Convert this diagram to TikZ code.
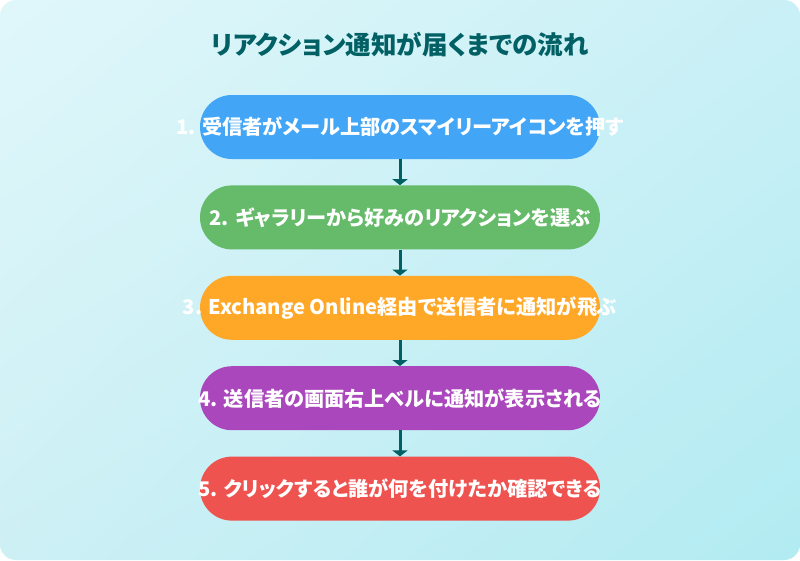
\documentclass[tikz,border=0pt]{standalone}
\usepackage{fontspec}
\setmainfont{Noto Sans CJK JP}[RawFeature=+palt]
\usetikzlibrary{positioning, arrows.meta, shadings}
\usepackage{xcolor}
\definecolor{bgTopLeft}{HTML}{E0F7FA}
\definecolor{bgTopRight}{HTML}{C9F0F6}
\definecolor{bgBottomLeft}{HTML}{CDF0F5}
\definecolor{bgBottomRight}{HTML}{B2EBF2}
\definecolor{deepTeal}{HTML}{006064}
\definecolor{stepBlue}{HTML}{42A5F5}
\definecolor{stepGreen}{HTML}{66BB6A}
\definecolor{stepOrange}{HTML}{FFA726}
\definecolor{stepPurple}{HTML}{AB47BC}
\definecolor{stepRed}{HTML}{EF5350}
\newcommand{\pilltext}[1]{\makebox[0pt]{#1}}

\begin{document}
\begin{tikzpicture}
    [
		x=1pt, y=-1pt,
		node distance=26pt,
		pill/.style={
			rounded corners=31.9pt, minimum width=400pt, minimum height=64pt,
			inner sep=0pt, text=white, font=\fontsize{20.2}{23}\selectfont\bfseries
		},
		flow/.style={
			-{Triangle[width=15pt,length=6pt]}, line width=3pt, draw=deepTeal
		}
	]

% Background
\useasboundingbox (0,0) rectangle (800,560);
\shade [rounded corners=16pt, upper left=bgTopLeft, upper right=bgTopRight,
	lower left=bgBottomLeft, lower right=bgBottomRight] (0,0) rectangle (800,560);

% Nodes
\node (title) [text=deepTeal, font=\fontsize{25.5}{30}\selectfont\bfseries] at (400,45)
	{リアクション通知が届くまでの流れ};
\node (step1) [pill, fill=stepBlue] at (400,127)
	{\pilltext{1. 受信者がメール上部のスマイリーアイコンを押す}};
\node (step2) [pill, fill=stepGreen, below=of step1]
	{\pilltext{2. ギャラリーから好みのリアクションを選ぶ}};
\node (step3) [pill, fill=stepOrange, below=of step2]
	{\pilltext{3. Exchange Online経由で送信者に通知が飛ぶ}};
\node (step4) [pill, fill=stepPurple, below=of step3]
	{\pilltext{4. 送信者の画面右上ベルに通知が表示される}};
\node (step5) [pill, fill=stepRed, below=of step4]
	{\pilltext{5. クリックすると誰が何を付けたか確認できる}};

% Arrows
\draw [flow] (step1) -- (step2);
\draw [flow] (step2) -- (step3);
\draw [flow] (step3) -- (step4);
\draw [flow] (step4) -- (step5);

\end{tikzpicture}
\end{document}
